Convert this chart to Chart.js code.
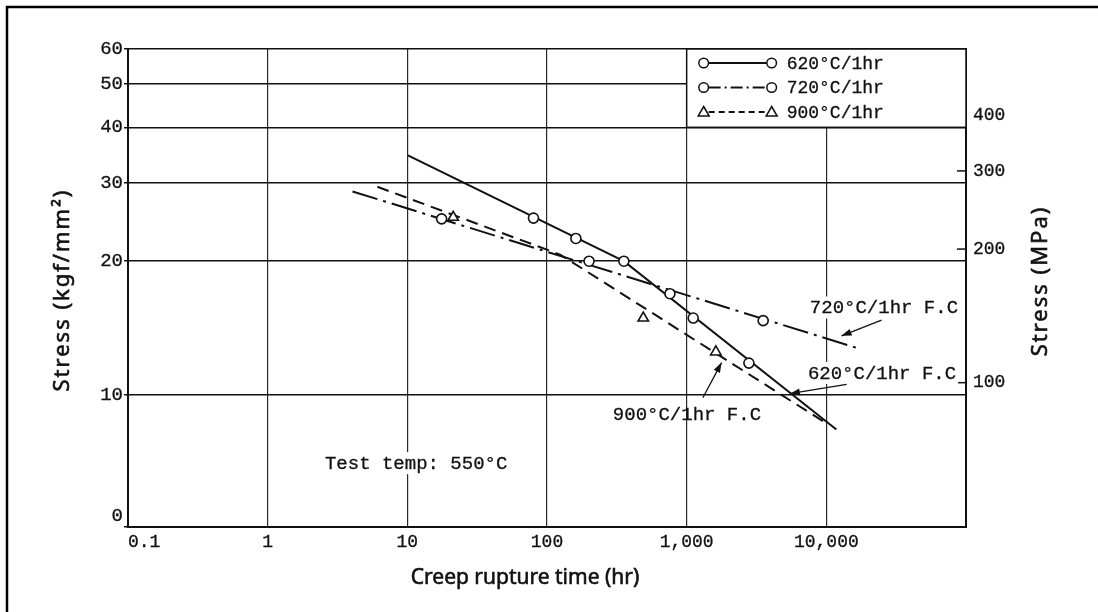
<!DOCTYPE html>
<html>
<head>
<meta charset="utf-8">
<script src="https://cdn.jsdelivr.net/npm/chart.js@4.4.1/dist/chart.umd.min.js"></script>
<style>
  html, body { margin: 0; padding: 0; background: #fff; }
  canvas { display: block; }
</style>
</head>
<body>
<canvas id="creepChart" width="1098" height="612"></canvas>
<script>
// axis ticks
const timeTicks = [0.1, 1, 10, 100, 1000, 10000];
const timeLabels = ['   0.1', '1', '10', '100', '1,000', '10,000'];
const stressTicks = [5.05, 10, 20, 30, 40, 50, 60];          // printed bottom label is "0"
const stressLabels = [['0', ''], '10', '20', '30', '40', '50', '60'];
const mpaTicks = [100, 200, 300, 400];

// test points [rupture time hr, stress kgf/mm2]
const pts620 = [[80, 25.0], [161, 22.5], [355, 20.0], [1114, 14.9], [2790, 11.8]];
const pts720 = [[17.6, 24.9], [200, 20.0], [759, 16.9], [3530, 14.7]];
const pts900 = [[21.3, 25.1], [489, 14.9], [1618, 12.5]];

// drawn trend lines
const fit620 = [[10.1, 34.6], [355, 20.0], [11800, 8.37]];
const fit720 = [[4.05, 28.7], [17400, 12.7]];
const fit900 = [[6.1, 29.4], [124, 20.7], [9490, 8.73]];

const seriesNames = ['620°C/1hr', '720°C/1hr', '900°C/1hr'];
const seriesDash = [[], [26, 6, 3, 6], [12, 7]];
const legendDash = [[], [12, 4, 2, 4], [6, 4]];
const seriesMarker = ['circle', 'circle', 'triangle'];

// text on the plot, placed in data units
const notes = [
  { text: '720°C/1hr F.C', at: [7620, 15.74], bg: true, arrow: [[24830, 14.74], [12850, 13.59]] },
  { text: '620°C/1hr F.C', at: [7380, 11.21], bg: true, arrow: [[13960, 10.57], [5480, 10.07]] },
  { text: '900°C/1hr F.C', at: [296, 9.07], bg: false, arrow: [[1306, 9.86], [1778, 11.83]] },
  { text: 'Test temp: 550°C', at: [2.57, 7.03], bg: true }
];

const INK = '#111';
const MONO = "'Liberation Mono', 'DejaVu Sans Mono', monospace";
const SANS = "'Noto Sans', 'Liberation Sans', sans-serif";

const toXY = arr => arr.map(p => ({ x: p[0], y: p[1] }));

const fits = [fit620, fit720, fit900];
const pts = [pts620, pts720, pts900];

const datasets = [];
pts.forEach((p, i) => {
  datasets.push({
    label: seriesNames[i] + ' data',
    data: toXY(p),
    showLine: false,
    pointStyle: seriesMarker[i],
    pointRadius: seriesMarker[i] === 'triangle' ? 6 : 5,
    pointBorderWidth: 1.6,
    pointBackgroundColor: '#fff',
    pointBorderColor: INK,
    order: 0
  });
});
fits.forEach((f, i) => {
  datasets.push({
    label: seriesNames[i],
    data: toXY(f),
    showLine: true,
    borderColor: INK,
    borderWidth: 2,
    borderDash: seriesDash[i],
    pointRadius: 0,
    fill: false,
    tension: 0,
    order: 1,
    legendRow: i
  });
});

// filled text with a thin outline, closer to the heavy print of the scan
function inkText(ctx, text, x, y, weight) {
  ctx.fillText(text, x, y);
  ctx.lineWidth = weight;
  ctx.strokeText(text, x, y);
}

function arrow(ctx, x1, y1, x2, y2) {
  ctx.beginPath();
  ctx.moveTo(x1, y1);
  ctx.lineTo(x2, y2);
  ctx.stroke();
  const a = Math.atan2(y2 - y1, x2 - x1);
  const len = 10, w = 3.5;
  ctx.beginPath();
  ctx.moveTo(x2, y2);
  ctx.lineTo(x2 - len * Math.cos(a) + w * Math.sin(a), y2 - len * Math.sin(a) - w * Math.cos(a));
  ctx.lineTo(x2 - len * Math.cos(a) - w * Math.sin(a), y2 - len * Math.sin(a) + w * Math.cos(a));
  ctx.closePath();
  ctx.fill();
}

function marker(ctx, style, x, y) {
  ctx.beginPath();
  if (style === 'triangle') {
    ctx.moveTo(x, y - 5.5);
    ctx.lineTo(x + 5.5, y + 4);
    ctx.lineTo(x - 5.5, y + 4);
    ctx.closePath();
  } else {
    ctx.arc(x, y, 4.8, 0, Math.PI * 2);
  }
  ctx.fillStyle = '#fff';
  ctx.fill();
  ctx.stroke();
}

const framePlugin = {
  id: 'frame',
  beforeDraw(chart) {
    const ctx = chart.ctx;
    ctx.save();
    ctx.fillStyle = '#fff';
    ctx.fillRect(0, 0, chart.width, chart.height);
    ctx.strokeStyle = '#000';
    ctx.lineWidth = 2.5;
    ctx.beginPath();
    ctx.moveTo(7, chart.height);
    ctx.lineTo(7, 7);
    ctx.lineTo(chart.width, 7);
    ctx.stroke();
    ctx.restore();
  }
};

const notesPlugin = {
  id: 'notes',
  afterDatasetsDraw(chart) {
    const { ctx, chartArea } = chart;
    const xs = chart.scales.x, ys = chart.scales.y, y2 = chart.scales.y2;
    ctx.save();
    ctx.strokeStyle = INK;
    ctx.fillStyle = INK;

    // inner ticks on the MPa axis
    ctx.lineWidth = 1.5;
    mpaTicks.forEach(v => {
      const py = y2.getPixelForValue(v);
      ctx.beginPath();
      ctx.moveTo(chartArea.right - 9, py);
      ctx.lineTo(chartArea.right + 1, py);
      ctx.stroke();
    });

    // legend box in the top right cell
    const lx0 = xs.getPixelForValue(1000), lx1 = chartArea.right;
    const ly0 = chartArea.top, ly1 = ys.getPixelForValue(40);
    ctx.fillStyle = '#fff';
    ctx.fillRect(lx0, ly0, lx1 - lx0, ly1 - ly0);
    ctx.lineWidth = 1.5;
    ctx.strokeRect(lx0, ly0, lx1 - lx0, ly1 - ly0);
    ctx.font = '18px ' + MONO;
    ctx.textBaseline = 'middle';
    chart.data.datasets.forEach(ds => {
      if (ds.legendRow === undefined) return;
      const i = ds.legendRow;
      const ry = ly0 + 14 + i * 24.5;
      const sx0 = lx0 + 17, sx1 = lx0 + 85;
      ctx.strokeStyle = INK;
      ctx.lineWidth = 2;
      ctx.setLineDash(legendDash[i]);
      ctx.beginPath();
      ctx.moveTo(sx0 + 5, ry);
      ctx.lineTo(sx1 - 5, ry);
      ctx.stroke();
      ctx.setLineDash([]);
      ctx.lineWidth = 1.5;
      marker(ctx, seriesMarker[i], sx0, ry);
      marker(ctx, seriesMarker[i], sx1, ry);
      ctx.fillStyle = INK;
      inkText(ctx, ds.label, lx0 + 100, ry + 1, 0.3);
    });

    // notes and arrows
    ctx.font = '19px ' + MONO;
    notes.forEach(n => {
      const px = xs.getPixelForValue(n.at[0]);
      const py = ys.getPixelForValue(n.at[1]);
      const w = ctx.measureText(n.text).width;
      if (n.bg) {
        ctx.fillStyle = '#fff';
        ctx.fillRect(px - 2, py - 11, w + 4, 22);
      }
      ctx.fillStyle = INK;
      ctx.textAlign = 'left';
      inkText(ctx, n.text, px, py + 1, 0.3);
      if (n.arrow) {
        ctx.lineWidth = 1.3;
        const a = n.arrow;
        arrow(ctx, xs.getPixelForValue(a[0][0]), ys.getPixelForValue(a[0][1]),
                   xs.getPixelForValue(a[1][0]), ys.getPixelForValue(a[1][1]));
      }
    });

    // axis titles
    ctx.font = '21px ' + SANS;
    ctx.textAlign = 'center';
    inkText(ctx, 'Creep rupture time (hr)', 525, 578, 0.6);
    ctx.letterSpacing = '2px';
    ctx.font = '22px ' + SANS;
    ctx.save();
    ctx.translate(63, 290);
    ctx.rotate(-Math.PI / 2);
    inkText(ctx, 'Stress (kgf/mm²)', 0, 0, 0.6);
    ctx.restore();
    ctx.save();
    ctx.translate(1041, 281);
    ctx.rotate(-Math.PI / 2);
    inkText(ctx, 'Stress (MPa)', 0, 0, 0.6);
    ctx.restore();

    ctx.restore();
  }
};

const tickFont = { family: MONO, size: 18 };

new Chart(document.getElementById('creepChart'), {
  type: 'scatter',
  data: { datasets: datasets },
  options: {
    responsive: false,
    animation: false,
    layout: { padding: { top: 49, left: 0, right: 0, bottom: 0 } },
    plugins: {
      legend: { display: false },
      tooltip: { enabled: false }
    },
    scales: {
      x: {
        type: 'logarithmic',
        min: 0.1,
        max: 100000,
        afterBuildTicks: s => { s.ticks = timeTicks.map(v => ({ value: v })); },
        afterFit: s => { s.height = 85; },
        grid: { color: '#2a2a2a', lineWidth: 1.2, drawTicks: false },
        border: { color: INK, width: 2 },
        ticks: {
          autoSkip: false,
          maxRotation: 0,
          padding: 4,
          color: INK,
          textStrokeColor: INK,
          textStrokeWidth: 0.3,
          font: tickFont,
          callback: (v, i) => timeLabels[i]
        }
      },
      y: {
        type: 'logarithmic',
        position: 'left',
        min: 5.05,
        max: 60,
        afterBuildTicks: s => { s.ticks = stressTicks.map(v => ({ value: v })); },
        afterFit: s => { s.width = 128; },
        grid: { color: INK, lineWidth: 1.5, tickLength: 4 },
        border: { color: INK, width: 2 },
        ticks: {
          autoSkip: false,
          padding: 1,
          color: INK,
          textStrokeColor: INK,
          textStrokeWidth: 0.3,
          font: { family: MONO, size: 19 },
          callback: (v, i) => stressLabels[i]
        }
      },
      y2: {
        type: 'logarithmic',
        position: 'right',
        min: 47.3,
        max: 564.6,
        afterBuildTicks: s => { s.ticks = mpaTicks.map(v => ({ value: v })); },
        afterFit: s => { s.width = 132; },
        grid: { drawOnChartArea: false, drawTicks: false },
        border: { color: INK, width: 2 },
        ticks: {
          autoSkip: false,
          padding: 7,
          color: INK,
          textStrokeColor: INK,
          textStrokeWidth: 0.3,
          font: tickFont,
          callback: v => String(v)
        }
      }
    }
  },
  plugins: [framePlugin, notesPlugin]
});
</script>
</body>
</html>
